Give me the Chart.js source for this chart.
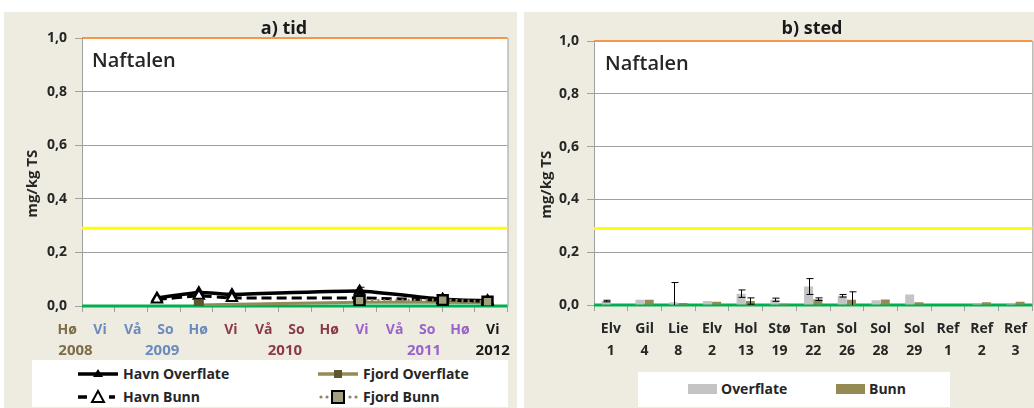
<!DOCTYPE html>
<html>
<head>
<meta charset="utf-8">
<script src="https://cdn.jsdelivr.net/npm/chart.js@4.4.0/dist/chart.umd.min.js"></script>
<style>
  body { margin: 0; width: 1034px; height: 408px; background: #fff; position: relative; overflow: hidden; font-family: "Open Sans", sans-serif; }
  .panel { position: absolute; top: 12px; height: 396px; background: #eeece1; }
  .wrap { position: absolute; }
  .ptitle { position: absolute; font: bold 18px "Open Sans"; color: #1a1a1a; transform: translate(-50%, -50%); white-space: nowrap; }
  .name { position: absolute; font: 600 20px "Open Sans"; color: #262626; white-space: nowrap; }
  .legend { position: absolute; background: #fff; }
  .item { position: absolute; display: flex; align-items: center; font: bold 14px "Open Sans"; color: #262626; white-space: nowrap; }
  .item svg { margin-right: 3px; }
</style>
</head>
<body>
<div class="panel" style="left:4px;width:513px"></div>
<div class="panel" style="left:524px;width:510px"></div>

<div class="wrap" style="left:4px;top:12px"><canvas id="chartTid" width="513" height="346"></canvas></div>
<div class="wrap" style="left:524px;top:12px"><canvas id="chartSted" width="510" height="346"></canvas></div>

<div class="ptitle" style="left:284px;top:27px">a) tid</div>
<div class="ptitle" style="left:812px;top:27px">b) sted</div>
<div class="name" style="left:92px;top:46px">Naftalen</div>
<div class="name" style="left:605px;top:49px">Naftalen</div>

<div class="legend" style="left:32px;top:360px;width:476px;height:47px">
  <div class="item" style="left:46px;top:4px">
    <svg width="42" height="16"><line x1="0" y1="8" x2="40" y2="8" stroke="#000" stroke-width="3.5"/><polygon points="20,3 25,11 15,11" fill="#000"/></svg>Havn Overflate</div>
  <div class="item" style="left:286px;top:4px">
    <svg width="42" height="16"><line x1="0" y1="8" x2="40" y2="8" stroke="#948a54" stroke-width="3.5"/><rect x="16" y="4" width="8" height="8" fill="#5f5630"/></svg>Fjord Overflate</div>
  <div class="item" style="left:46px;top:27px">
    <svg width="42" height="16"><line x1="0" y1="8" x2="9" y2="8" stroke="#000" stroke-width="3.5"/><polygon points="20,2 26,13 14,13" fill="#fff" stroke="#000" stroke-width="2"/><line x1="31" y1="8" x2="37" y2="8" stroke="#000" stroke-width="3.5"/></svg>Havn Bunn</div>
  <div class="item" style="left:286px;top:27px">
    <svg width="42" height="16"><circle cx="3" cy="8" r="1.6" fill="#8c8766"/><circle cx="9" cy="8" r="1.6" fill="#8c8766"/><rect x="14" y="2" width="12" height="12" fill="#a39e7c" stroke="#000" stroke-width="2"/><circle cx="32" cy="8" r="1.6" fill="#8c8766"/><circle cx="38" cy="8" r="1.6" fill="#8c8766"/></svg>Fjord Bunn</div>
</div>

<div class="legend" style="left:638px;top:372px;width:312px;height:35px">
  <div class="item" style="left:50px;top:7px"><svg width="30" height="12"><rect x="0" y="1" width="29" height="10" fill="#c4c4c4"/></svg>Overflate</div>
  <div class="item" style="left:198px;top:7px"><svg width="30" height="12"><rect x="0" y="1" width="29" height="10" fill="#948a54"/></svg>Bunn</div>
</div>

<script>
// a) tid - seasons on the time axis
var seasonLabels = ['Hø', 'Vi', 'Vå', 'So', 'Hø', 'Vi', 'Vå', 'So', 'Hø', 'Vi', 'Vå', 'So', 'Hø', 'Vi'];
var seasonYears  = [2008, 2009, 2009, 2009, 2009, 2010, 2010, 2010, 2010, 2011, 2011, 2011, 2011, 2012];
var yearLabels   = ['2008', '2009', '2010', '2011', '2012'];
var yearPos      = [-0.2, 2.45, 6.2, 10.45, 12.55];

// sampling times (in seasons from autumn 2008) and mg/kg TS
var havnTimes      = [2.29, 3.57, 4.58, 8.48, 11.02, 12.39];
var havnOverflate  = [0.030, 0.050, 0.043, 0.056, 0.025, 0.019];
var havnOverflateErr = [0, 0, 0, 0.014, 0, 0];
var havnBunn       = [0.024, 0.038, 0.030, 0.030, 0.022, 0.018];
var fjordOTimes    = [3.57, 8.48, 11.02, 12.39];
var fjordOverflate = [0.004, 0.014, 0.014, 0.012];
var fjordBTimes    = [8.48, 11.02, 12.39];
var fjordBunn      = [0.020, 0.022, 0.016];

// b) sted
var stations     = [['Elv','1'], ['Gil','4'], ['Lie','8'], ['Elv','2'], ['Hol','13'], ['Stø','19'], ['Tan','22'],
                    ['Sol','26'], ['Sol','28'], ['Sol','29'], ['Ref','1'], ['Ref','2'], ['Ref','3']];
var overflate    = [0.015, 0.020, 0.010, 0.015, 0.043, 0.020, 0.070, 0.035, 0.018, 0.040, 0, 0.005, 0.005];
var overflateErr = [0.003, 0, 0.075, 0, 0.014, 0.006, 0.030, 0.005, 0, 0, 0, 0, 0];
var bunn         = [0, 0.020, 0.008, 0.012, 0.015, 0.005, 0.022, 0.020, 0.021, 0.010, 0, 0.010, 0.012];
var bunnErr      = [0, 0, 0, 0, 0.012, 0, 0.005, 0.030, 0, 0, 0, 0, 0];

// class limits
var limitValues = [1.0, 0.29, 0.0];
var limitStyles = [{ color: '#f79646', width: 2 }, { color: '#ffff00', width: 3 }, { color: '#00b050', width: 3 }];

var yearColors = { 2008: '#7d6d48', 2009: '#6a8bbd', 2010: '#8a3a4a', 2011: '#9b63c9', 2012: '#1a1a1a' };
var gridColor = '#a0a0a0';

function pts(xs, ys) {
  return xs.map(function (x, i) { return { x: x, y: ys[i] }; });
}

// white plot area
var plotBg = {
  id: 'plotBg',
  beforeDraw: function (chart) {
    var a = chart.chartArea;
    chart.ctx.save();
    chart.ctx.fillStyle = '#fff';
    chart.ctx.fillRect(a.left, a.top, a.right - a.left, a.bottom - a.top);
    chart.ctx.restore();
  }
};

// limit lines + right frame
var limitLines = {
  id: 'limitLines',
  beforeDatasetsDraw: function (chart) {
    var ctx = chart.ctx, a = chart.chartArea, y = chart.scales.y;
    ctx.save();
    ctx.strokeStyle = gridColor;
    ctx.lineWidth = 1;
    ctx.beginPath();
    ctx.moveTo(a.right + 0.5, a.top);
    ctx.lineTo(a.right + 0.5, a.bottom);
    ctx.stroke();
    limitValues.forEach(function (v, i) {
      var py = y.getPixelForValue(v);
      ctx.strokeStyle = limitStyles[i].color;
      ctx.lineWidth = limitStyles[i].width;
      ctx.beginPath();
      ctx.moveTo(a.left, py);
      ctx.lineTo(a.right, py);
      ctx.stroke();
    });
    ctx.restore();
  }
};

// error bars (plus/minus) from dataset.errorPlus
var errorBars = {
  id: 'errorBars',
  afterDatasetsDraw: function (chart) {
    var ctx = chart.ctx, y = chart.scales.y;
    ctx.save();
    ctx.strokeStyle = '#000';
    ctx.lineWidth = 1;
    chart.data.datasets.forEach(function (ds, di) {
      if (!ds.errorPlus) return;
      var meta = chart.getDatasetMeta(di);
      ds.errorPlus.forEach(function (e, i) {
        var raw = ds.data[i];
        var v = (raw !== null && typeof raw === 'object') ? raw.y : raw;
        if (!e || v === null) return;
        var px = Math.round(meta.data[i].x) + 0.5;
        var top = y.getPixelForValue(v + e);
        var bot = y.getPixelForValue(Math.max(0, v - e));
        ctx.beginPath();
        ctx.moveTo(px, top); ctx.lineTo(px, bot);
        ctx.moveTo(px - 3, top); ctx.lineTo(px + 4, top);
        if (v - e > 0) { ctx.moveTo(px - 3, bot); ctx.lineTo(px + 4, bot); }
        ctx.stroke();
      });
    });
    ctx.restore();
  }
};

// season and year labels under the time axis
var seasonAxis = {
  id: 'seasonAxis',
  afterDraw: function (chart) {
    var ctx = chart.ctx, x = chart.scales.x;
    ctx.save();
    ctx.textAlign = 'center';
    ctx.textBaseline = 'middle';
    ctx.font = 'bold 14px "Open Sans"';
    seasonLabels.forEach(function (s, i) {
      ctx.fillStyle = yearColors[seasonYears[i]];
      ctx.fillText(s, x.getPixelForValue(i - 0.45), 318);
    });
    ctx.font = 'bold 15px "Open Sans"';
    yearLabels.forEach(function (s, i) {
      ctx.fillStyle = yearColors[s];
      ctx.fillText(s, x.getPixelForValue(yearPos[i]), 339);
    });
    ctx.restore();
  }
};

function yAxis(width, titlePad) {
  return {
    min: 0, max: 1,
    ticks: {
      stepSize: 0.2, padding: 8, color: '#262626',
      font: { family: 'Open Sans', size: 14, weight: 'bold' },
      callback: function (v) { return v.toFixed(1).replace('.', ','); }
    },
    grid: { color: gridColor, tickLength: 7 },
    border: { color: gridColor },
    title: {
      display: true, text: 'mg/kg TS\u00a0\u00a0\u00a0\u00a0\u00a0\u00a0', color: '#262626',
      font: { family: 'Open Sans', size: 15, weight: 'bold' },
      padding: { top: titlePad, bottom: 0 }
    },
    afterFit: function (s) { s.width = width; }
  };
}

new Chart(document.getElementById('chartTid'), {
  type: 'line',
  data: {
    datasets: [
      {
        label: 'Fjord Bunn', data: pts(fjordBTimes, fjordBunn), order: 0,
        borderColor: '#8c8766', borderWidth: 3, borderDash: [2, 4],
        pointStyle: 'rect', pointRadius: 7, pointBackgroundColor: '#a39e7c',
        pointBorderColor: '#000', pointBorderWidth: 2.5
      },
      {
        label: 'Havn Bunn', data: pts(havnTimes, havnBunn), order: 1,
        borderColor: '#000', borderWidth: 3, borderDash: [10, 5],
        pointStyle: 'triangle', pointRadius: 6, pointBackgroundColor: '#fff',
        pointBorderColor: '#000', pointBorderWidth: 2
      },
      {
        label: 'Havn Overflate', data: pts(havnTimes, havnOverflate), order: 2,
        errorPlus: havnOverflateErr,
        borderColor: '#000', borderWidth: 3.5,
        pointStyle: 'triangle', pointRadius: 4, pointBackgroundColor: '#000', pointBorderColor: '#000'
      },
      {
        label: 'Fjord Overflate', data: pts(fjordOTimes, fjordOverflate), order: 3,
        borderColor: '#948a54', borderWidth: 3,
        pointStyle: 'rect', pointRadius: 5, pointBackgroundColor: '#5f5630', pointBorderColor: '#5f5630'
      }
    ]
  },
  options: {
    responsive: false, animation: false,
    layout: { padding: { top: 26, right: 6, left: 0, bottom: 0 } },
    elements: { line: { tension: 0.15 } },
    plugins: { legend: { display: false }, tooltip: { enabled: false } },
    scales: {
      x: {
        type: 'linear', min: 0, max: 13,
        afterBuildTicks: function (s) { s.ticks = seasonLabels.map(function (_, i) { return { value: i }; }); },
        ticks: { display: false },
        grid: { drawOnChartArea: false, tickLength: 6, color: gridColor },
        border: { color: gridColor },
        afterFit: function (s) { s.height = 52; }
      },
      y: yAxis(78, 20)
    }
  },
  plugins: [plotBg, limitLines, errorBars, seasonAxis]
});

new Chart(document.getElementById('chartSted'), {
  type: 'bar',
  data: {
    labels: stations,
    datasets: [
      { label: 'Overflate', data: overflate, errorPlus: overflateErr, backgroundColor: '#c4c4c4',
        categoryPercentage: 0.55, barPercentage: 0.97 },
      { label: 'Bunn', data: bunn, errorPlus: bunnErr, backgroundColor: '#948a54',
        categoryPercentage: 0.55, barPercentage: 0.97 }
    ]
  },
  options: {
    responsive: false, animation: false,
    layout: { padding: { top: 29, right: 1, left: 0, bottom: 0 } },
    plugins: { legend: { display: false }, tooltip: { enabled: false } },
    scales: {
      x: {
        ticks: {
          color: '#262626', padding: 7, maxRotation: 0, autoSkip: false,
          font: { family: 'Open Sans', size: 14, weight: 'bold', lineHeight: '22px' }
        },
        grid: { drawOnChartArea: false, tickLength: 6, color: gridColor },
        border: { color: gridColor },
        afterFit: function (s) { s.height = 53; }
      },
      y: yAxis(70, 14)
    }
  },
  plugins: [plotBg, limitLines, errorBars]
});
</script>
</body>
</html>
